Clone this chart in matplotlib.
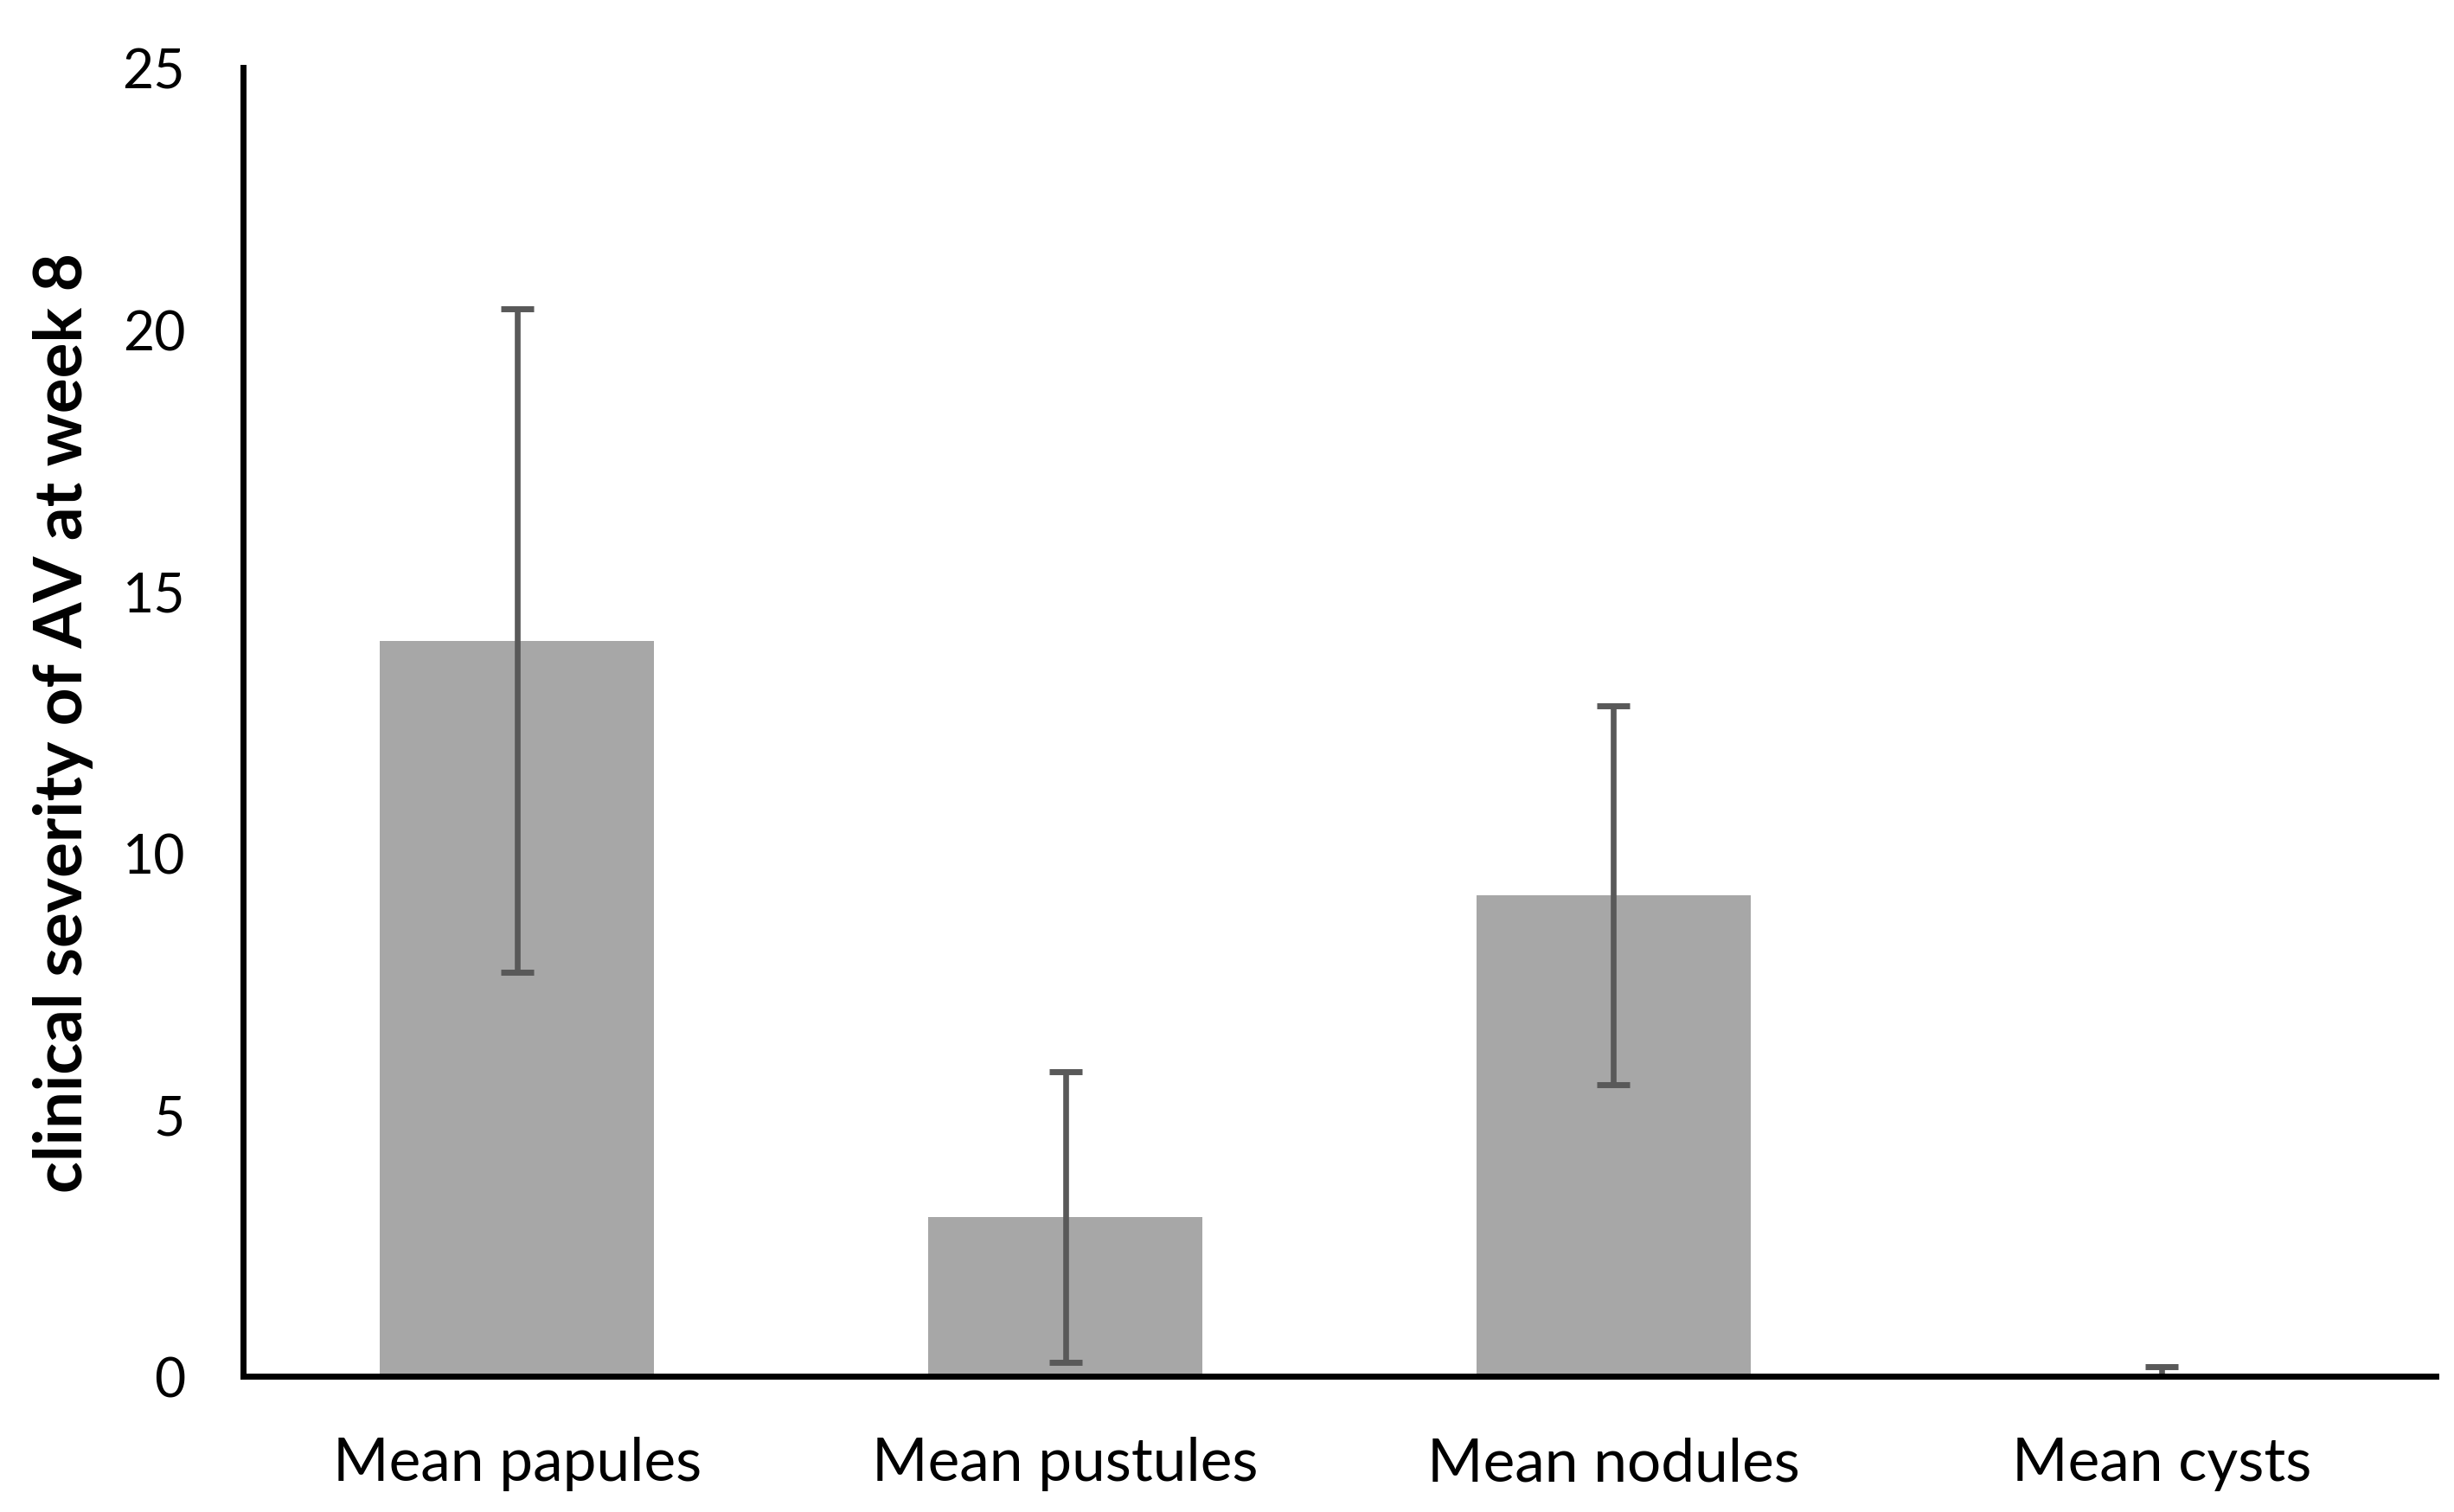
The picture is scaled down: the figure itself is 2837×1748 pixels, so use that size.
import matplotlib
matplotlib.use('Agg')
import matplotlib.pyplot as plt
import numpy as np

categories = ['Mean papules', 'Mean pustules', 'Mean nodules', 'Mean cysts']
means = [14.05, 3.04, 9.19, 0.04]
errors = [6.34, 2.78, 3.62, 0.14]
yticks = [0, 5, 10, 15, 20, 25]

plt.rcParams['font.family'] = ['Lato', 'DejaVu Sans']

fig = plt.figure(figsize=(28.37, 17.49), dpi=100)
ax = fig.add_axes([0.099, 0.0898, 0.8936, 0.865])

x = np.arange(len(categories))
ax.bar(x, means, width=0.5, color='#a7a7a7', zorder=1)
# capsize is half the cap length in matplotlib
ax.errorbar(x, means, yerr=errors, fmt='none', ecolor='#595959',
            elinewidth=4.8, capsize=14, capthick=5, zorder=2)

ax.set_xlim(-0.5, 3.5)
ax.set_ylim(0, 25)
ax.set_yticks(yticks)
ax.set_xticks(x)
ax.set_xticklabels(categories, fontsize=50)
ax.tick_params(axis='y', length=0, pad=48, labelsize=45)
ax.tick_params(axis='x', length=0, pad=50)

for s in ['top', 'right']:
    ax.spines[s].set_visible(False)
for s in ['left', 'bottom']:
    ax.spines[s].set_linewidth(5)
    ax.spines[s].set_color('black')

ax.set_ylabel('clinical severity of AV at week 8', fontsize=55,
              fontweight='bold', labelpad=24)

fig.savefig('out.png', dpi=100)
